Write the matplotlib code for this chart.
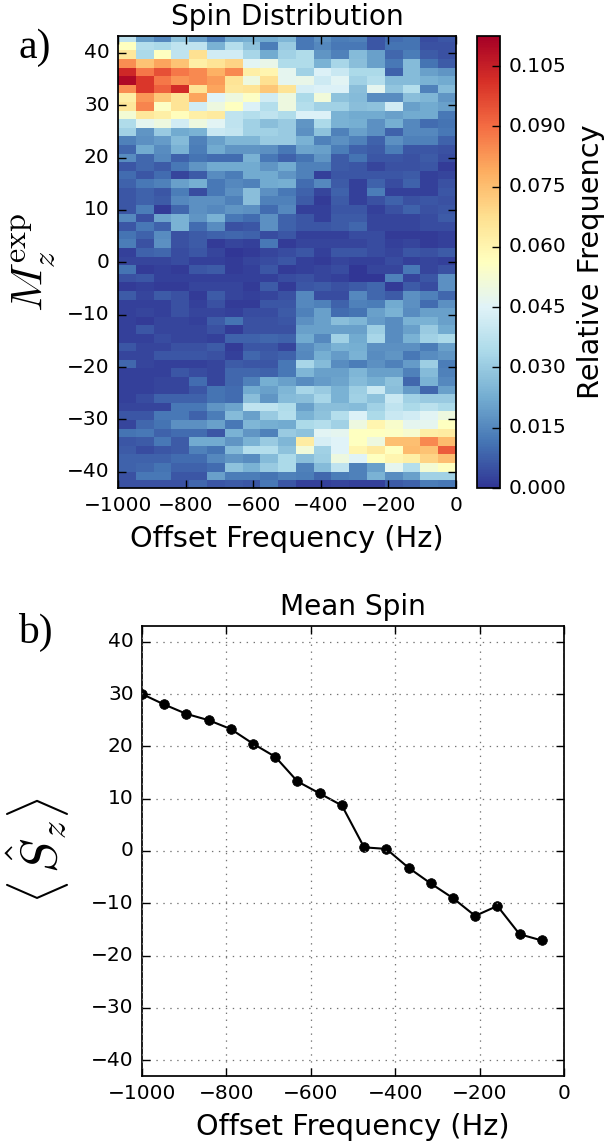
import numpy as np
import matplotlib
matplotlib.use('Agg')
import matplotlib.pyplot as plt

plt.style.use('classic')
plt.rcParams['font.family'] = ['DejaVu Sans']
plt.rcParams['mathtext.fontset'] = 'cm'

# relative frequency x 1000, top row (M = +43) first, columns -1000 Hz -> 0 Hz
spin_hist = [
    [38, 20, 15, 28, 20, 13, 22, 23, 22, 25, 12, 17, 13, 14, 6, 10, 11, 4, 6],
    [56, 36, 34, 38, 38, 24, 36, 28, 13, 30, 12, 15, 12, 12, 6, 11, 11, 5, 5],
    [65, 34, 56, 38, 67, 42, 42, 33, 22, 32, 35, 18, 14, 26, 20, 9, 13, 7, 5],
    [84, 74, 80, 74, 62, 66, 70, 46, 48, 35, 35, 24, 33, 27, 20, 12, 26, 11, 7],
    [103, 88, 95, 88, 85, 78, 85, 62, 60, 47, 32, 44, 40, 34, 34, 8, 26, 20, 18],
    [110, 100, 88, 83, 85, 82, 66, 50, 67, 47, 48, 41, 46, 32, 36, 26, 26, 24, 22],
    [84, 100, 92, 102, 66, 80, 65, 66, 73, 66, 43, 44, 44, 27, 47, 29, 36, 14, 26],
    [62, 83, 73, 66, 80, 45, 50, 55, 42, 50, 34, 51, 28, 26, 16, 16, 27, 25, 18],
    [65, 86, 55, 66, 42, 50, 56, 44, 36, 50, 36, 32, 32, 27, 28, 42, 20, 22, 20],
    [52, 65, 62, 57, 62, 64, 38, 36, 38, 35, 44, 44, 24, 22, 22, 20, 22, 22, 12],
    [35, 47, 50, 42, 50, 46, 38, 32, 27, 30, 18, 34, 24, 23, 17, 23, 15, 10, 11],
    [32, 18, 30, 22, 24, 40, 39, 32, 32, 30, 17, 28, 14, 20, 17, 8, 15, 15, 12],
    [14, 17, 19, 26, 14, 20, 25, 25, 30, 30, 24, 14, 17, 14, 8, 17, 14, 14, 8],
    [9, 22, 16, 24, 13, 22, 18, 18, 17, 12, 21, 20, 13, 8, 7, 13, 6, 6, 5],
    [16, 9, 15, 8, 11, 10, 10, 24, 12, 8, 11, 18, 7, 11, 6, 6, 5, 7, 4],
    [6, 9, 7, 12, 18, 22, 22, 22, 18, 22, 14, 14, 7, 6, 3, 5, 5, 6, 1],
    [10, 6, 10, 3, 7, 16, 13, 22, 22, 18, 14, 2, 6, 6, 6, 6, 7, 2, 3],
    [8, 12, 14, 20, 23, 12, 15, 14, 22, 23, 10, 15, 7, 2, 8, 4, 8, 2, 5],
    [6, 8, 6, 13, 4, 12, 17, 27, 17, 12, 8, 3, 8, 2, 13, 2, 2, 2, 6],
    [6, 8, 7, 15, 17, 17, 14, 27, 14, 14, 7, 1, 7, 2, 5, 8, 5, 6, 5],
    [6, 13, 1, 9, 17, 15, 18, 17, 10, 15, 2, 2, 6, 6, 2, 5, 8, 5, 6],
    [15, 5, 21, 24, 18, 24, 12, 10, 17, 8, 6, 2, 7, 7, 3, 3, 3, 4, 7],
    [6, 12, 8, 24, 10, 16, 5, 6, 17, 8, 6, 6, 7, 9, 3, 3, 3, 4, 4],
    [11, 8, 16, 5, 7, 8, 9, 8, 4, 6, 2, 2, 2, 4, 4, 1, 1, 1, 2],
    [13, 5, 17, 5, 7, 1, 3, 2, 12, 1, 3, 3, 3, 3, 4, 2, 3, 1, 2],
    [2, 8, 9, 4, 6, 3, 0, 1, 3, 4, 6, 2, 6, 6, 4, 3, 6, 5, 7],
    [3, 3, 3, 4, 2, 2, 1, 3, 4, 6, 2, 1, 3, 2, 2, 4, 2, 3, 2],
    [11, 1, 2, 1, 6, 7, 1, 2, 6, 1, 2, 3, 4, 0, 3, 3, 12, 3, 5],
    [5, 6, 2, 2, 2, 2, 2, 2, 2, 4, 5, 3, 2, 0, 0, 14, 3, 6, 17],
    [1, 2, 1, 1, 3, 3, 3, 1, 7, 1, 6, 7, 5, 7, 9, 1, 7, 4, 17],
    [7, 3, 7, 5, 1, 7, 3, 2, 3, 5, 15, 4, 4, 15, 9, 7, 17, 14, 9],
    [2, 2, 2, 5, 2, 5, 1, 1, 6, 6, 15, 14, 8, 14, 13, 22, 17, 10, 17],
    [2, 3, 2, 5, 3, 3, 2, 4, 4, 7, 14, 20, 10, 11, 20, 24, 16, 20, 20],
    [2, 1, 3, 3, 2, 7, 11, 5, 5, 6, 17, 20, 27, 25, 19, 16, 24, 24, 20],
    [2, 6, 3, 3, 3, 5, 1, 5, 5, 5, 20, 20, 20, 20, 31, 16, 20, 30, 22],
    [2, 2, 4, 3, 3, 2, 8, 8, 9, 8, 22, 15, 32, 22, 33, 16, 24, 32, 34],
    [6, 3, 3, 5, 5, 7, 1, 6, 6, 3, 16, 20, 24, 23, 17, 17, 17, 13, 20],
    [3, 3, 6, 6, 6, 5, 2, 9, 7, 8, 15, 23, 19, 24, 16, 18, 12, 16, 18],
    [9, 3, 2, 2, 2, 3, 7, 6, 6, 12, 33, 26, 16, 13, 17, 14, 19, 31, 13],
    [2, 2, 2, 6, 4, 3, 9, 9, 8, 12, 25, 20, 20, 25, 20, 20, 14, 26, 14],
    [2, 2, 3, 3, 10, 3, 9, 14, 23, 20, 16, 19, 21, 26, 23, 28, 9, 24, 15],
    [2, 2, 3, 3, 6, 11, 10, 22, 20, 25, 33, 30, 24, 31, 40, 27, 19, 9, 20],
    [2, 4, 8, 8, 8, 11, 10, 27, 18, 26, 27, 33, 24, 32, 28, 40, 32, 30, 30],
    [3, 3, 3, 12, 12, 18, 21, 38, 38, 35, 20, 27, 27, 26, 32, 38, 34, 37, 34],
    [6, 6, 12, 12, 8, 13, 26, 20, 30, 36, 24, 28, 36, 44, 34, 40, 42, 46, 50],
    [3, 9, 11, 17, 17, 20, 12, 25, 23, 22, 34, 36, 32, 50, 60, 54, 47, 47, 56],
    [11, 12, 8, 10, 10, 6, 24, 18, 14, 30, 28, 46, 47, 56, 56, 55, 53, 62, 63],
    [6, 7, 12, 7, 22, 22, 18, 24, 30, 25, 63, 43, 45, 56, 50, 75, 75, 85, 76],
    [7, 4, 6, 7, 14, 11, 26, 36, 36, 28, 51, 32, 45, 60, 64, 56, 76, 74, 93],
    [8, 8, 8, 10, 10, 15, 18, 16, 26, 34, 27, 31, 50, 45, 56, 60, 62, 70, 75],
    [8, 9, 11, 8, 8, 10, 28, 24, 30, 34, 14, 26, 38, 14, 20, 47, 36, 52, 56],
    [5, 12, 12, 6, 6, 20, 13, 13, 11, 14, 13, 9, 13, 14, 24, 16, 20, 32, 32],
    [5, 5, 5, 5, 9, 6, 7, 6, 12, 6, 2, 2, 3, 2, 2, 7, 8, 13, 12],
]

offset_freq = [-1000, -947.4, -894.7, -842.1, -789.5, -736.8, -684.2, -631.6, -578.9, -526.3,
               -473.7, -421.1, -368.4, -315.8, -263.2, -210.5, -157.9, -105.3, -52.6]
mean_spin = [30, 28, 26.2, 25, 23.3, 20.5, 18, 13.3, 11, 8.7,
             0.7, 0.4, -3.2, -6.2, -9, -12.4, -10.5, -15.9, -17.1]

W, H = 605.0, 1148.0

def box(x0, y0, x1, y1):
    return [x0 / W, 1 - y1 / H, (x1 - x0) / W, (y1 - y0) / H]

fig = plt.figure(figsize=(6.05, 11.48), dpi=100, facecolor='white')

# panel a
ax1 = fig.add_axes(box(118, 36, 456, 488))
hist = np.array(spin_hist) / 1000.0
x_edges = np.linspace(-1000, 0, hist.shape[1] + 1)
y_edges = np.linspace(43.74, -43.24, hist.shape[0] + 1)
mesh = ax1.pcolormesh(x_edges, y_edges, hist, cmap='RdYlBu_r', vmin=0, vmax=0.1125, linewidth=0, rasterized=True)
ax1.set_xlim(-1000, 0)
ax1.set_ylim(-43.1, 43.2)
ax1.set_xticks(range(-1000, 1, 200))
ax1.set_yticks(range(-40, 41, 10))
ax1.tick_params(labelsize=14.5, length=5.7, width=1, pad=6)
ax1.set_title('Spin Distribution', fontsize=20.2, pad=8)
ax1.set_xlabel('Offset Frequency (Hz)', fontsize=20.7, labelpad=7)
ax1.set_ylabel(r'$M_z^{\rm exp}$', fontsize=33, labelpad=7)
for s in ax1.spines.values():
    s.set_linewidth(1.25)

cax = fig.add_axes(box(477, 36, 500, 488))
cbar = fig.colorbar(mesh, cax=cax, ticks=np.arange(0, 0.106, 0.015), format='%.3f')
cbar.ax.tick_params(labelsize=14.5, length=5.7, width=1, pad=6)
cbar.outline.set_linewidth(1.25)
cbar.set_label('Relative Frequency', fontsize=20.7, labelpad=8)

# panel b
ax2 = fig.add_axes(box(142, 626, 564, 1076))
ax2.plot(offset_freq, mean_spin, color='k', marker='o', markersize=7, linewidth=1.5)
ax2.set_xlim(-1000, 0)
ax2.set_ylim(-43, 43)
ax2.set_xticks(range(-1000, 1, 200))
ax2.set_yticks(range(-40, 41, 10))
ax2.grid(True, color='0.45', linestyle=(0, (1, 4)), linewidth=0.9)
ax2.tick_params(labelsize=14.5, length=5.7, width=1, pad=6)
ax2.set_title('Mean Spin', fontsize=20.2, pad=8)
ax2.set_xlabel('Offset Frequency (Hz)', fontsize=20.7, labelpad=7)
ax2.set_ylabel(r'$\langle\, \hat{S}_z \rangle$', fontsize=37, labelpad=14)
for s in ax2.spines.values():
    s.set_linewidth(1.25)

fig.text(18 / W, 1 - 58 / H, 'a)', fontsize=30, family='Liberation Serif')
fig.text(18 / W, 1 - 643 / H, 'b)', fontsize=30, family='Liberation Serif')

fig.savefig('out.png', dpi=100, facecolor='white')
